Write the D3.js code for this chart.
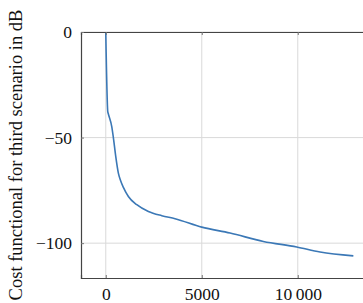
<!DOCTYPE html>
<html>
<head>
<meta charset="utf-8">
<script src="https://cdn.jsdelivr.net/npm/d3@7"></script>
<style>
	html, body { margin: 0; padding: 0; background: #fff; }
	svg { display: block; }
	svg text { font-family: "Times New Roman", "Liberation Serif", Times, serif !important; }
</style>
</head>
<body>
<svg id="chart" width="363" height="303"></svg>
<script>
// iterations vs cost (dB)
const iterations = [0, 104, 125, 312, 396, 521, 656, 770, 917, 1177, 1615, 2219, 2917, 3609, 5000, 6474, 8208, 9947, 11161, 12895];
const cost = [0, -37.7, -38.5, -44.8, -50, -59, -66.8, -70.3, -73.6, -77.9, -81.8, -85, -87, -88.4, -92.4, -95.2, -99.2, -101.8, -104.2, -106];
const xTicks = [0, 5000, 10000];
const yTicks = [0, -50, -100];
const yLabel = "Cost functional for third scenario in dB";

const svg = d3.select("#chart");
const plotLeft = 81, plotTop = 32, plotBottom = 278;

const xScale = d3.scaleLinear().domain([-1290, 14300]).range([plotLeft, plotLeft + 15590 * 96 / 5000]);
const yScale = d3.scaleLinear().domain([-116.5, 0]).range([plotBottom, plotTop]);
const plotRight = xScale.range()[1];

const fmt = function(d){
	let s = Math.abs(d) >= 10000 ? d3.format(",")(Math.abs(d)).replace(/,/g, "\u2009") : String(Math.abs(d));
	return (d < 0 ? "\u2212" : "") + s;
};

//grid
svg.append("g").selectAll("line").data(xTicks).enter().append("line")
	.attr("x1", d => xScale(d)).attr("x2", d => xScale(d))
	.attr("y1", plotTop).attr("y2", plotBottom)
	.attr("stroke", "#d9d9d9").attr("stroke-width", 1);
svg.append("g").selectAll("line").data(yTicks).enter().append("line")
	.attr("x1", plotLeft).attr("x2", plotRight)
	.attr("y1", d => yScale(d)).attr("y2", d => yScale(d))
	.attr("stroke", "#d9d9d9").attr("stroke-width", 1);

//curve
const line = d3.line()
	.x((d, i) => xScale(iterations[i]))
	.y(d => yScale(d))
	.curve(d3.curveMonotoneX);
svg.append("path").datum(cost)
	.attr("d", line)
	.attr("fill", "none")
	.attr("stroke", "#3b78b6")
	.attr("stroke-width", 1.6);

//axes, ticks inside
svg.append("g").attr("class", "xAxis")
	.attr("transform", "translate(" + [0, plotBottom] + ")")
	.call(d3.axisBottom(xScale).tickValues(xTicks).tickSize(-3).tickPadding(10).tickFormat(fmt));
svg.append("g").attr("class", "xTop")
	.attr("transform", "translate(" + [0, plotTop] + ")")
	.call(d3.axisTop(xScale).tickValues(xTicks).tickSize(-3).tickFormat(""));
svg.append("g").attr("class", "yAxis")
	.attr("transform", "translate(" + [plotLeft, 0] + ")")
	.call(d3.axisLeft(yScale).tickValues(yTicks).tickSize(-3).tickPadding(9).tickFormat(fmt));

svg.selectAll(".domain").attr("stroke", "#444").attr("stroke-width", 1.2);
svg.selectAll(".tick line").attr("stroke", "#777");
svg.selectAll(".tick text").attr("font-size", 17.5).attr("fill", "#111");

//close box on the right (outside the view)
svg.append("line").attr("x1", plotRight).attr("x2", plotRight).attr("y1", plotTop).attr("y2", plotBottom)
	.attr("stroke", "#444");

svg.append("text")
	.attr("transform", "translate(22,155) rotate(-90)")
	.attr("text-anchor", "middle")
	.attr("font-size", 18.5)
	.attr("fill", "#111")
	.text(yLabel);
</script>
</body>
</html>
